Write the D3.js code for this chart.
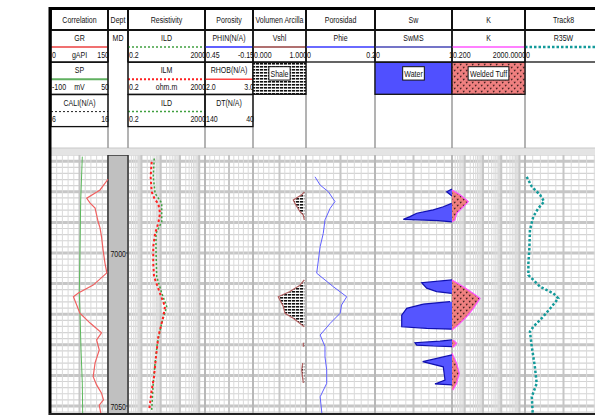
<!DOCTYPE html>
<html lang="en">
<head>
<meta charset="UTF-8">
<title>Well log</title>
<style>
  body { margin: 0; background: #fff; }
  svg { display: block; font-family: "Liberation Sans", Arial, sans-serif; }
</style>
<script src="https://d3js.org/d3.v7.min.js"></script>
</head>
<body>
<script>
var trackTitles = ["Correlation", "Dept", "Resistivity", "Porosity", "Volumen Arcilla", "Porosidad", "Sw", "K", "Track8"];
// header curves per track: [name, unit, left label, right label]
var headerCurves = [
  [["GR", "gAPI", "0", "150"], ["SP", "mV", "-100", "50"], ["CALI(N/A)", "", "6", "16"]],
  [["MD", "", "", ""]],
  [["ILD", "", "0.2", "2000"], ["ILM", "ohm.m", "0.2", "2000"], ["ILD", "", "0.2", "2000"]],
  [["PHIN(N/A)", "", "0.45", "-0.15"], ["RHOB(N/A)", "", "2.0", "3.0"], ["DT(N/A)", "", "140", "40"]],
  [["Vshl", "", "0.000", "1.000"]],
  [["Phie", "", "0", "0.2"]],
  [["SwMS", "", "0", "1"]],
  [["K", "", "0.200", "2000.0000"]],
  [["R35W", "", "0", "25"]]
];
var lithoNames = ["Shale", "Water", "Welded Tuff"];
var depthTicks = [7000, 7050];

var grDepth = [6975.9, 6979.4, 6982.1, 6983.7, 6985.3, 6989.8, 6991.8, 6994.7, 6999, 7003.3, 7006.5, 7010.5, 7013.1, 7014.3, 7019.7, 7022.9, 7026.1, 7028.4, 7031.7, 7035.9, 7040.4, 7043.1, 7045.8, 7048, 7049.7, 7052.3];
var grValues = [150, 129, 94, 103, 116, 124, 129, 133, 137, 142, 147, 111, 72, 59, 76, 103, 133, 120, 127, 116, 111, 120, 133, 138, 127, 131];

var spDepth = [6968.5, 6982.7, 6999, 7013, 7019.6, 7031.7, 7042.5, 7053];
var spValues = [-17.6, -21.8, -23.7, -25.5, -23.7, -21, -17.6, -16.6];

var ilmDepth = [6970.2, 6975.1, 6980, 6982.7, 6983.8, 6987, 6990.3, 6993.6, 6997.9, 7003.4, 7007.7, 7013.2, 7017.5, 7020.8, 7027.4, 7033.9, 7040.4, 7044.8, 7050.8];
var ilmValues = [3.4, 3.0, 3.4, 5.1, 7.5, 9.2, 7.5, 5.1, 4.1, 4.1, 4.5, 9.2, 16.7, 13.6, 7.5, 5.7, 4.5, 3.4, 2.6];

var ildDepth = [6969.1, 6975.1, 6980.5, 6983.7, 6989.8, 6993.6, 6999, 7007.7, 7013.1, 7017.5, 7022.9, 7029.4, 7035.9, 7042.5, 7051.3];
var ildValues = [4.6, 4.1, 5.1, 11.3, 11.3, 5.7, 5.7, 6.2, 11.3, 20.5, 11.3, 6.7, 5.1, 4.1, 3.4];

var vshlDepth = [6980, 6981, 6982.7, 6983.8, 6986.5, 6987.6, 6989.2, 6995, 7008.8, 7010.5, 7012.6, 7014.3, 7017.5, 7019.7, 7021.3, 7024.1, 7027, 7029.3, 7030.6, 7033, 7036, 7038.2, 7042.5];
var vshlValues = [0.968, 0.919, 0.760, 0.792, 0.887, 0.949, 0.968, null, 0.968, 0.887, 0.698, 0.477, 0.572, 0.604, 0.760, 0.968, null, 0.95, 0.95, null, 0.938, 0.919, 0.949];
var vshlCutoff = 0.968;

var phieDepth = [6975.1, 6977.8, 6980, 6983.2, 6985.4, 6989.2, 6993.6, 6997.9, 7002.3, 7006.6, 7011, 7014.3, 7017, 7019.7, 7023, 7026.8, 7030.6, 7033.9, 7038.2, 7042.6, 7047, 7052.4];
var phieValues = [0.026, 0.041, 0.065, 0.084, 0.070, 0.055, 0.050, 0.041, 0.036, 0.031, 0.079, 0.118, 0.103, 0.099, 0.070, 0.041, 0.055, 0.055, 0.060, 0.060, 0.041, 0.046];

var swDepth = [6979.1, 6980, 6981.4, 6982.5, 6983.8, 6984.9, 6985.9, 6987, 6988.1, 6989, 6989.4, 6989.8, 7000,
  7008.8, 7009.7, 7011.5, 7012.6, 7013.2, 7014.5, 7015.9, 7016.7, 7018.1, 7020.3, 7024.1, 7024.6, 7024.9, 7027,
  7028.4, 7028.8, 7029.3, 7030.1, 7030.4, 7030.6, 7032, 7033.3, 7035.5, 7037.2, 7041.5, 7042.8, 7043.1];
var swValues = [1.0, 0.931, 1.0, null, 0.996, 0.887, 0.757, 0.542, 0.455, 0.368, 0.822, 1.0, null,
  1.0, 0.606, 0.671, 0.801, 0.996, null, 0.974, 0.627, 0.412, 0.347, 0.347, 0.671, 0.996, null,
  1.0, 0.844, 0.519, 0.542, 0.757, 1.0, null, 1.0, 0.619, 0.887, 0.909, 0.779, 1.0];

var kDepth = [6979.4, 6981, 6983.2, 6984.9, 6987, 6989.2, 6989.8, 7000, 7008.8, 7011, 7013.2, 7014.8, 7018.1, 7020.8, 7023.5, 7025.2, 7027, 7028.4, 7029.5, 7030.8, 7032, 7032.8, 7036.1, 7039.3, 7042.6, 7044.8];
var kValues = [0.2, 0.55, 1.56, 0.83, 0.36, 0.29, 0.2, null, 0.2, 0.83, 2.94, 6.84, 2.94, 1.28, 0.44, 0.2, null, 0.23, 0.36, 0.23, null, 0.2, 0.36, 0.5, 0.36, 0.22];

var r35Depth = [6975.1, 6978.3, 6981, 6983.2, 6985.4, 6988.1, 6992.5, 6999, 7003.4, 7007.2, 7011, 7013.2, 7014.8, 7017.5, 7020.8, 7024.1, 7025.7, 7030.6, 7037.2, 7042.6, 7047, 7052.4];
var r35Values = [0.55, 2.2, 4.9, 6.2, 4.3, 2.7, 1.6, 1.4, 1.1, 1.1, 4.9, 9.2, 10.8, 8.7, 5.9, 2.7, 1.6, 2.2, 3.2, 3.8, 2.2, 2.5];

// ---- layout ----
var W = 595, H = 415;
var edges = [51, 108, 128, 205, 253, 306, 375, 452, 525, 602];
var kinds = ["lin", "depth", "log", "lin", "lin", "lin", "lin", "log", "lin"];
var titleTop = 9, titleBottom = 30, blockH = 32, headBottom = 148, bodyTop = 155;
var narrow = 0.74, fs = 9.5;

var svg = d3.select("body").append("svg").attr("width", W).attr("height", H);
var y = d3.scaleLinear().domain([7000, 7050]).range([253, 406]);

function zip(d, v) { return d.map(function (z, i) { return { d: z, v: v[i] }; }); }
function xs(t, domain, log) {
  var s = log ? d3.scaleLog() : d3.scaleLinear();
  return s.domain(domain).range([edges[t], edges[t + 1]]);
}
// condensed text, like the log program's font
function label(g, x, yy, s, anchor) {
  return g.append("text").attr("transform", "translate(" + x + "," + yy + ") scale(" + narrow + ",1)")
    .attr("text-anchor", anchor || "start").attr("font-size", fs).attr("fill", "#111").text(s);
}

var defs = svg.append("defs");
var sh = defs.append("pattern").attr("id", "shale").attr("patternUnits", "userSpaceOnUse")
  .attr("width", 4).attr("height", 3);
sh.append("rect").attr("width", 4).attr("height", 3).attr("fill", "#fff");
sh.append("rect").attr("width", 3.2).attr("height", 1.6).attr("fill", "#111");
var tf = defs.append("pattern").attr("id", "tuff").attr("patternUnits", "userSpaceOnUse")
  .attr("width", 6).attr("height", 6);
tf.append("rect").attr("width", 6).attr("height", 6).attr("fill", "#f08080");
tf.append("path").attr("d", "M0.5,0.8h2.4l-1.2,2z M3.5,3.8h2.4l-1.2,2z").attr("fill", "#402020");
defs.append("clipPath").attr("id", "bodyclip").append("rect")
  .attr("x", edges[0]).attr("y", bodyTop).attr("width", W - edges[0]).attr("height", H - bodyTop);

// ---- body grid ----
var body = svg.append("g").attr("clip-path", "url(#bodyclip)");
var d0 = y.invert(bodyTop), d1 = y.invert(H);
for (var dd = Math.ceil(d0 / 2) * 2; dd <= d1; dd += 2) {
  var major = dd % 10 === 0;
  body.append("line").attr("x1", edges[0]).attr("x2", W).attr("y1", y(dd)).attr("y2", y(dd))
    .attr("stroke", major ? "#c6c6c6" : "#d4d4d4").attr("stroke-width", major ? 3 : 1.2);
}
kinds.forEach(function (k, t) {
  var x0 = edges[t], x1 = edges[t + 1];
  if (k === "lin") {
    for (var i = 1; i < 10; i++) {
      body.append("line").attr("x1", x0 + i * (x1 - x0) / 10).attr("x2", x0 + i * (x1 - x0) / 10)
        .attr("y1", bodyTop).attr("y2", H)
        .attr("stroke", i === 5 ? "#c6c6c6" : "#dadada").attr("stroke-width", i === 5 ? 2 : 1);
    }
  } else if (k === "log") {
    var sx = xs(t, [0.2, 2000], true);
    for (var e = -1; e <= 3; e++) {
      for (var m = 1; m <= 9; m++) {
        var v = m * Math.pow(10, e);
        if (v <= 0.2 || v >= 2000) continue;
        body.append("line").attr("x1", sx(v)).attr("x2", sx(v)).attr("y1", bodyTop).attr("y2", H)
          .attr("stroke", m === 1 ? "#c6c6c6" : "#dadada").attr("stroke-width", m === 1 ? 2 : 1);
      }
    }
  }
  if (t > 0) {
    body.append("line").attr("x1", x0).attr("x2", x0).attr("y1", bodyTop).attr("y2", H)
      .attr("stroke", "#b8b8b8").attr("stroke-width", 2);
  }
});

// depth track
body.append("rect").attr("x", edges[1]).attr("y", bodyTop).attr("width", edges[2] - edges[1])
  .attr("height", H - bodyTop).attr("fill", "#c0c0c0").attr("stroke", "#333").attr("stroke-width", 1.5);
depthTicks.forEach(function (d) {
  body.append("line").attr("x1", edges[2] - 2).attr("x2", edges[2]).attr("y1", y(d)).attr("y2", y(d))
    .attr("stroke", "#333");
  label(body, edges[2] - 2, y(d) + 3.5, d, "end");
});

// ---- curves ----
function drawCurve(data, sx, color, width, dash) {
  var line = d3.line().defined(function (p) { return p.v != null; })
    .x(function (p) { return sx(p.v); }).y(function (p) { return y(p.d); });
  var p = body.append("path").datum(data).attr("d", line).attr("fill", "none")
    .attr("stroke", color).attr("stroke-width", width);
  if (dash) p.attr("stroke-dasharray", dash);
}
function drawFill(data, sx, base, fill, stroke) {
  var area = d3.area().defined(function (p) { return p.v != null; })
    .x0(function () { return sx(base); }).x1(function (p) { return sx(p.v); })
    .y(function (p) { return y(p.d); });
  body.append("path").datum(data).attr("d", area).attr("fill", fill);
  drawCurve(data, sx, stroke, 1.2);
}

drawCurve(zip(spDepth, spValues), xs(0, [-100, 50]), "#5cb85c", 1);
drawCurve(zip(grDepth, grValues), xs(0, [0, 150]), "#f06060", 1.2);
drawCurve(zip(ildDepth, ildValues), xs(2, [0.2, 2000], true), "#40a040", 1.5, "2,2");
drawCurve(zip(ilmDepth, ilmValues), xs(2, [0.2, 2000], true), "#ff2020", 2, "2.5,2.5");
drawFill(zip(vshlDepth, vshlValues), xs(4, [0, 1]), vshlCutoff, "url(#shale)", "#b06060");
drawCurve(zip(phieDepth, phieValues), xs(5, [0, 0.2]), "#6060ff", 1);
drawFill(zip(swDepth, swValues), xs(6, [0, 1]), 1, "#5555ff", "#1010b0");
drawFill(zip(kDepth, kValues), xs(7, [0.2, 2000], true), 0.2, "url(#tuff)", "#ff50ff");
drawCurve(zip(r35Depth, r35Values), xs(8, [0, 25]), "#139a9a", 2.5, "2.5,2");

// ---- header ----
var head = svg.append("g");
head.append("rect").attr("x", edges[0]).attr("y", titleTop).attr("width", W).attr("height", headBottom - titleTop)
  .attr("fill", "#fff");
head.append("rect").attr("x", edges[0]).attr("y", headBottom).attr("width", W).attr("height", bodyTop - headBottom)
  .attr("fill", "#e4e4e4");
head.append("line").attr("x1", edges[0]).attr("x2", W).attr("y1", headBottom).attr("y2", headBottom)
  .attr("stroke", "#c8c8c8").attr("stroke-width", 1);

var curveStyle = {
  "GR": ["#f07070", 2, null], "SP": ["#60b060", 2, null], "CALI(N/A)": ["#222", 1, "2,2"],
  "ILD": ["#40a040", 1.5, "2,2"], "ILM": ["#ff2020", 2, "2,2"],
  "PHIN(N/A)": ["#6060ff", 2, null], "RHOB(N/A)": ["#ff4040", 1.5, null],
  "Vshl": ["#b07070", 2, null], "Phie": ["#6a6aff", 2, null], "SwMS": ["#7474c8", 2, null],
  "K": ["#ff80ff", 2, null], "R35W": ["#139a9a", 2.5, "2.5,2"]
};

// separators
edges.slice(1).forEach(function (x) {
  head.append("line").attr("x1", x).attr("x2", x).attr("y1", titleBottom).attr("y2", headBottom)
    .attr("stroke", "#9a9a9a").attr("stroke-width", 1.5);
});

headerCurves.forEach(function (list, t) {
  var x0 = edges[t], x1 = edges[t + 1], cx = (x0 + x1) / 2;
  label(head, cx, 23, trackTitles[t], "middle");
  list.forEach(function (c, r) {
    var top = titleBottom + r * blockH + (r > 0 ? r * 0.3 : 0);
    var st = curveStyle[c[0]];
    label(head, cx, top + 11, c[0], "middle");
    if (t === 1) {
      head.append("line").attr("x1", x0).attr("x2", x0).attr("y1", top).attr("y2", top + blockH)
        .attr("stroke", "#111").attr("stroke-width", 1.5);
      head.append("line").attr("x1", x1).attr("x2", x1).attr("y1", top).attr("y2", top + blockH)
        .attr("stroke", "#111").attr("stroke-width", 1.5);
      return;
    }
    if (st) {
      var ln = head.append("line").attr("x1", x0).attr("x2", x1).attr("y1", top + 17).attr("y2", top + 17)
        .attr("stroke", st[0]).attr("stroke-width", st[1]);
      if (st[2]) ln.attr("stroke-dasharray", st[2]);
    }
    label(head, x0 + 1, top + 27.5, c[2], "start");
    label(head, x1 + 1, top + 27.5, c[3], "end");
    if (c[1]) label(head, cx, top + 27.5, c[1], "middle");
    head.append("rect").attr("x", x0).attr("y", top).attr("width", x1 - x0).attr("height", blockH)
      .attr("fill", "none").attr("stroke", "#111").attr("stroke-width", 1.3);
  });
});

// lithology legend boxes
var lithoTracks = [4, 6, 7], lithoFill = ["url(#shale)", "#5050ff", "url(#tuff)"];
lithoNames.forEach(function (n, i) {
  var t = lithoTracks[i], x0 = edges[t], x1 = edges[t + 1], top = titleBottom + blockH + 0.3;
  head.append("rect").attr("x", x0).attr("y", top).attr("width", x1 - x0).attr("height", blockH)
    .attr("fill", lithoFill[i]).attr("stroke", "#111").attr("stroke-width", 1.3);
  var box = head.append("rect");
  var tx = label(head, (x0 + x1) / 2, top + 14.5, n, "middle");
  var bb = tx.node().getBBox();
  var w = bb.width * narrow;
  box.attr("x", (x0 + x1) / 2 - w / 2 - 1.5).attr("y", top + 14.5 + bb.y - 1)
    .attr("width", w + 3).attr("height", bb.height + 2).attr("fill", "#fff").attr("stroke", "#111");
});

// title row and frame
head.append("rect").attr("x", edges[0]).attr("y", titleTop).attr("width", W).attr("height", titleBottom - titleTop)
  .attr("fill", "none").attr("stroke", "#111").attr("stroke-width", 2);
edges.slice(1).forEach(function (x) {
  head.append("line").attr("x1", x).attr("x2", x).attr("y1", titleTop).attr("y2", titleBottom)
    .attr("stroke", "#111").attr("stroke-width", 2);
});
svg.append("line").attr("x1", 49).attr("x2", W).attr("y1", 8.5).attr("y2", 8.5).attr("stroke", "#000").attr("stroke-width", 3);
svg.append("line").attr("x1", 50).attr("x2", 50).attr("y1", 7).attr("y2", H).attr("stroke", "#000").attr("stroke-width", 3);
svg.append("line").attr("x1", 49).attr("x2", W).attr("y1", 414).attr("y2", 414).attr("stroke", "#222").attr("stroke-width", 2);
</script>
</body>
</html>
